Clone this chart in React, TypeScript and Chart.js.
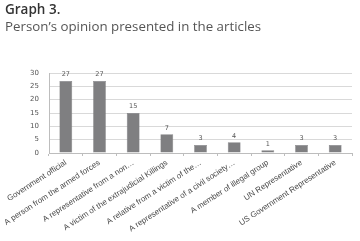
import React, { useEffect, useRef } from "react";
import { Chart, registerables } from "chart.js";

Chart.register(...registerables);

const categories = [
  "Government official",
  "A person from the armed forces",
  "A representative from a non…",
  "A victim of the extrajudicial Killings",
  "A relative from a victim of the…",
  "A representative of a civil society…",
  "A member of illegal group",
  "UN Representative",
  "US Government Representative",
];
const values = [27, 27, 15, 7, 3, 4, 1, 3, 3];
const yTicks = [0, 5, 10, 15, 20, 25, 30];

const FONT = "'Open Sans', 'Noto Sans', sans-serif";
const LABEL_FONT = "'Liberation Sans', Arial, sans-serif";
const NUM_FONT = "'DejaVu Sans', sans-serif";

const valueLabels = {
  id: "valueLabels",
  afterDatasetsDraw(chart: any) {
    const ctx = chart.ctx;
    const meta = chart.getDatasetMeta(0);
    ctx.save();
    ctx.font = `6.5px ${NUM_FONT}`;
    ctx.fillStyle = "#555";
    ctx.textAlign = "center";
    ctx.textBaseline = "bottom";
    meta.data.forEach((bar: any, i: number) => {
      ctx.fillText(String(values[i]), bar.x, bar.y - 3);
    });
    ctx.restore();
  },
};

export default function App() {
  const ref = useRef<HTMLCanvasElement>(null);
  useEffect(() => {
    if (!ref.current) return;
    const chart = new Chart(ref.current, {
      type: "bar",
      data: {
        labels: categories,
        datasets: [
          {
            data: values,
            backgroundColor: "#7f7f81",
            borderColor: "#6e6e70",
            borderWidth: 0.5,
            barPercentage: 0.38,
            categoryPercentage: 1,
          },
        ],
      },
      options: {
        animation: false,
        responsive: false,
        maintainAspectRatio: false,
        layout: { padding: { left: 6, right: 8, top: 73, bottom: 0 } },
        plugins: {
          legend: { display: false },
          tooltip: { enabled: false },
        },
        scales: {
          x: {
            grid: {
              offset: true,
              drawOnChartArea: false,
              drawTicks: true,
              tickLength: 3,
              color: "#bdbdbd",
            },
            border: { color: "#bdbdbd" },
            ticks: {
              autoSkip: false,
              maxRotation: 33,
              minRotation: 33,
              color: "#4a4a4a",
              font: { family: LABEL_FONT, size: 8 },
              padding: 2,
            },
            afterFit: (scale: any) => {
              scale.height = 88;
            },
          },
          y: {
            min: 0,
            max: 30,
            afterBuildTicks: (scale: any) => {
              scale.ticks = yTicks.map((v) => ({ value: v }));
            },
            grid: { color: "#d9d9d9", drawTicks: false },
            border: { color: "#bdbdbd" },
            ticks: {
              color: "#555",
              font: { family: NUM_FONT, size: 7 },
              padding: 10,
            },
            afterFit: (scale: any) => {
              scale.width = 43;
            },
          },
        },
      },
      plugins: [valueLabels],
    });
    return () => chart.destroy();
  }, []);
  return (
    <div style={{ position: "absolute", left: 0, top: 0, width: 360, height: 241, background: "#fff" }}>
      <canvas ref={ref} width={360} height={241} style={{ position: "absolute", left: 0, top: 0 }} />
      <div style={{ position: "absolute", left: 5, top: 2, fontFamily: FONT, fontSize: 13.5, fontWeight: 600, color: "#333", lineHeight: "15px" }}>
        Graph 3.
      </div>
      <div style={{ position: "absolute", left: 5, top: 19, fontFamily: FONT, fontSize: 13.3, color: "#555", lineHeight: "15px" }}>
        Person’s opinion presented in the articles
      </div>
    </div>
  );
}
